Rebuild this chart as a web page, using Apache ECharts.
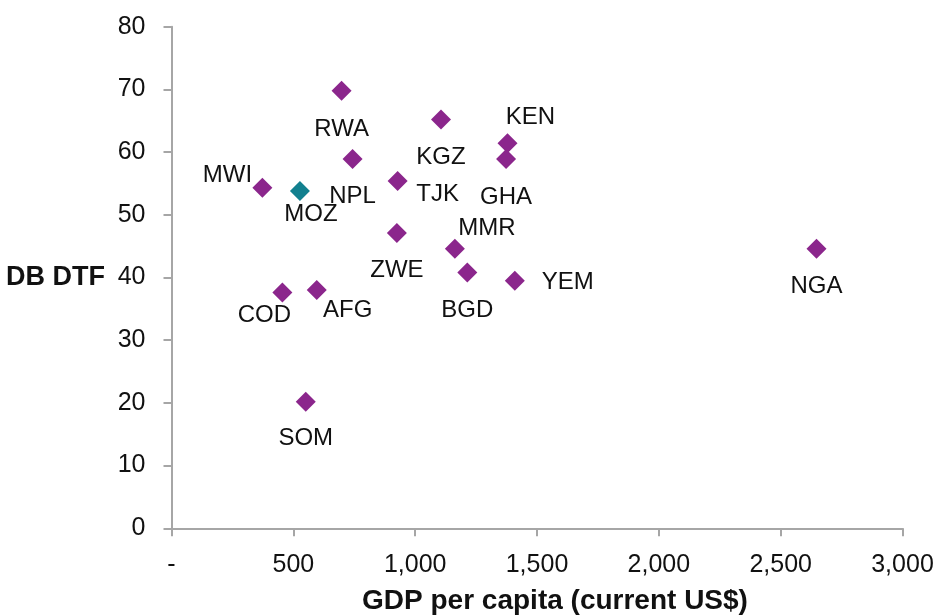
<!DOCTYPE html>
<html>
<head>
<meta charset="utf-8">
<title>DB DTF vs GDP per capita</title>
<script src="https://cdn.jsdelivr.net/npm/echarts@6/dist/echarts.min.js"></script>
<style>
  html, body { margin: 0; padding: 0; background: #ffffff; }
  #chart { width: 939px; height: 615px; }
</style>
</head>
<body>
<div id="chart"></div>
<script>
// Country codes, GDP per capita (current US$) and Doing Business distance-to-frontier score
const countries = ['RWA', 'NPL', 'MWI', 'MOZ', 'TJK', 'ZWE', 'KGZ', 'KEN', 'GHA', 'MMR', 'BGD', 'YEM', 'NGA', 'COD', 'AFG', 'SOM'];
const gdpPerCapita = [698, 743, 373, 527, 928, 925, 1106, 1379, 1373, 1163, 1214, 1409, 2647, 455, 596, 551];
const dbDtf = [69.8, 58.9, 54.3, 53.8, 55.4, 47.1, 65.2, 61.4, 58.9, 44.6, 40.8, 39.5, 44.6, 37.6, 38.0, 20.2];
const highlighted = ['MOZ'];

const yTicks = { min: 0, max: 80, step: 10 };
const xTicks = { min: 0, max: 3000, step: 500 };

// Label placement around each marker: [dx, dy] from the marker centre
const labelOffset = {
  RWA: [0, 39], NPL: [0, 37], MWI: [-35, -12], MOZ: [11, 23], TJK: [40, 13],
  ZWE: [0, 37], KGZ: [0, 38], KEN: [23, -26], GHA: [0, 38], MMR: [32, -20],
  BGD: [0, 38], YEM: [53, 2], NGA: [0, 38], COD: [-18, 23], AFG: [31, 20], SOM: [0, 37]
};

const PURPLE = '#8B268C';
const TEAL = '#12808F';
const AXIS = '#a6a6a6';
const FONT = '"Liberation Sans", Arial, sans-serif';
const SYMBOL = 20;

const points = countries.map((c, i) => {
  const off = labelOffset[c];
  return {
    name: c,
    value: [gdpPerCapita[i], dbDtf[i]],
    itemStyle: { color: highlighted.includes(c) ? TEAL : PURPLE, opacity: 1 },
    label: { position: [SYMBOL / 2 + off[0], SYMBOL / 2 + off[1]] }
  };
});

const chart = echarts.init(document.getElementById('chart'), null, { renderer: 'canvas' });

chart.setOption({
  animation: false,
  backgroundColor: '#ffffff',
  grid: { left: 171.5, right: 36.5, top: 26.7, bottom: 86.7, containLabel: false },
  xAxis: {
    type: 'value',
    min: xTicks.min, max: xTicks.max, interval: xTicks.step,
    axisLine: { show: true, lineStyle: { color: AXIS, width: 2 } },
    axisTick: { show: true, inside: false, length: 8, lineStyle: { color: AXIS, width: 2 } },
    splitLine: { show: false },
    axisLabel: {
      margin: 24, color: '#111', fontSize: 25, fontFamily: FONT,
      formatter: v => v === 0 ? '-' : v.toLocaleString('en-US')
    }
  },
  yAxis: {
    type: 'value',
    min: yTicks.min, max: yTicks.max, interval: yTicks.step,
    axisLine: { show: true, lineStyle: { color: AXIS, width: 2 } },
    axisTick: { show: true, inside: false, length: 8, lineStyle: { color: AXIS, width: 2 } },
    splitLine: { show: false },
    axisLabel: { margin: 26, color: '#111', fontSize: 25, fontFamily: FONT }
  },
  graphic: [
    {
      type: 'text', x: 555, y: 601,
      style: {
        text: 'GDP per capita (current US$)', fill: '#111', font: 'bold 28px ' + FONT,
        textAlign: 'center', textVerticalAlign: 'middle'
      }
    },
    {
      type: 'text', x: 105, y: 278,
      style: {
        text: 'DB DTF', fill: '#111', font: 'bold 27px ' + FONT,
        textAlign: 'right', textVerticalAlign: 'middle'
      }
    }
  ],
  series: [{
    type: 'scatter',
    symbol: 'diamond',
    symbolSize: SYMBOL,
    data: points,
    label: {
      show: true,
      align: 'center',
      verticalAlign: 'middle',
      formatter: p => p.name,
      color: '#111',
      fontSize: 24,
      fontFamily: FONT
    },
    labelLayout: { hideOverlap: false }
  }]
});
</script>
</body>
</html>
